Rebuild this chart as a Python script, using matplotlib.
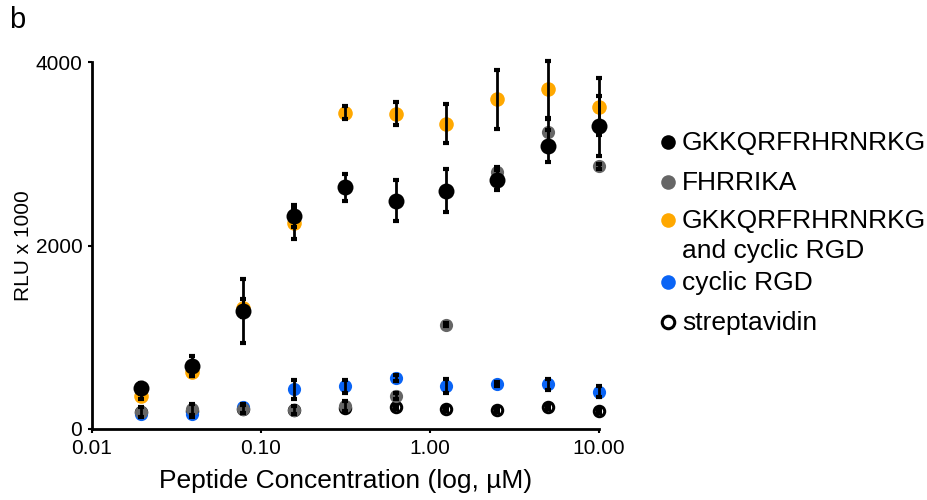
import matplotlib
matplotlib.use('Agg')
import matplotlib.pyplot as plt
from matplotlib.lines import Line2D

plt.rcParams['font.family'] = ['Liberation Sans', 'DejaVu Sans']

# concentrations (uM), two-fold dilution series
conc = [0.0195, 0.039, 0.078, 0.156, 0.3125, 0.625, 1.25, 2.5, 5.0, 10.0]

gkk = [446, 685, 1283, 2318, 2634, 2489, 2598, 2717, 3087, 3304]
gkk_err = [60, 110, 350, 120, 150, 225, 235, 110, 175, 330]

fhr = [185, 217, 217, 206, 250, 362, 1138, 2797, 3232, 2862]
fhr_err = [50, 60, 40, 40, 50, 30, 20, 60, 150, 30]

gkk_rgd = [362, 623, 1320, 2242, 3449, 3438, 3329, 3594, 3703, 3511]
gkk_rgd_err = [40, 50, 100, 170, 70, 125, 215, 320, 310, 310]

rgd = [163, 163, 240, 431, 467, 558, 467, 489, 486, 405]
rgd_err = [20, 30, 30, 100, 70, 30, 80, 20, 60, 60]

strep = [180, 200, 220, 210, 230, 242, 217, 206, 242, 199]
strep_err = [20, 20, 20, 20, 20, 20, 20, 20, 20, 20]

labels = ['GKKQRFRHRNRKG', 'FHRRIKA', 'GKKQRFRHRNRKG\nand cyclic RGD', 'cyclic RGD', 'streptavidin']

BLACK = '#000000'
GRAY = '#666666'
ORANGE = '#ffa800'
BLUE = '#0a64f5'

W, H = 927, 500
fig = plt.figure(figsize=(W / 100, H / 100), dpi=100)
ax = fig.add_axes([92 / W, 71 / H, 507 / W, 367 / H])

eb = dict(fmt='none', ecolor='black', elinewidth=2, capsize=2.5, capthick=3, clip_on=False)

series = [
    (strep, strep_err, 'white', 7.5, 1),
    (rgd, rgd_err, BLUE, 9.5, 2),
    (fhr, fhr_err, GRAY, 9.5, 3),
    (gkk_rgd, gkk_rgd_err, ORANGE, 10.5, 4),
    (gkk, gkk_err, BLACK, 11.5, 5),
]
for ys, errs, col, ms, z in series:
    if col == 'white':
        ax.plot(conc, ys, 'o', ms=ms, mfc='white', mec='black', mew=2.2, zorder=z, clip_on=False)
    else:
        ax.plot(conc, ys, 'o', ms=ms, mfc=col, mec='none', zorder=z, clip_on=False)
    ax.errorbar(conc, ys, yerr=errs, zorder=z + 0.5, **eb)

ax.set_xscale('log')
ax.set_xlim(0.01, 10)
ax.set_ylim(0, 4000)
ax.set_xticks([0.01, 0.1, 1, 10])
ax.set_xticklabels(['0.01', '0.10', '1.00', '10.00'])
ax.minorticks_off()
ax.set_yticks([0, 2000, 4000])
ax.set_yticklabels(['0', '2000', '4000'])
ax.tick_params(axis='both', labelsize=15, width=1.5, length=3, color='black', pad=4)
for s in ['top', 'right']:
    ax.spines[s].set_visible(False)
for s in ['left', 'bottom']:
    ax.spines[s].set_linewidth(2)

ax.set_xlabel('Peptide Concentration (log, \u00b5M)', fontsize=19, labelpad=8)
ax.set_ylabel('RLU x 1000', fontsize=15, labelpad=2)

fig.text(0.01, 0.96, 'b', fontsize=21, va='center', ha='left')

# hand-placed legend (row centres in pixels from the top)
leg_rows = [142, 182, 220, 282, 322]
leg_style = [
    dict(mfc=BLACK, mec='none', ms=10.5),
    dict(mfc=GRAY, mec='none', ms=10.5),
    dict(mfc=ORANGE, mec='none', ms=10.5),
    dict(mfc=BLUE, mec='none', ms=10.5),
    dict(mfc='white', mec='black', mew=2.2, ms=9),
]
for row, lab, st in zip(leg_rows, labels, leg_style):
    y = 1 - row / H
    fig.add_artist(Line2D([668 / W], [y], ls='none', marker='o', transform=fig.transFigure, **st))
    fig.text(682 / W, y + 11 / H, lab, fontsize=19, ha='left', va='top', linespacing=1.3)

fig.savefig('out.png', dpi=100)
